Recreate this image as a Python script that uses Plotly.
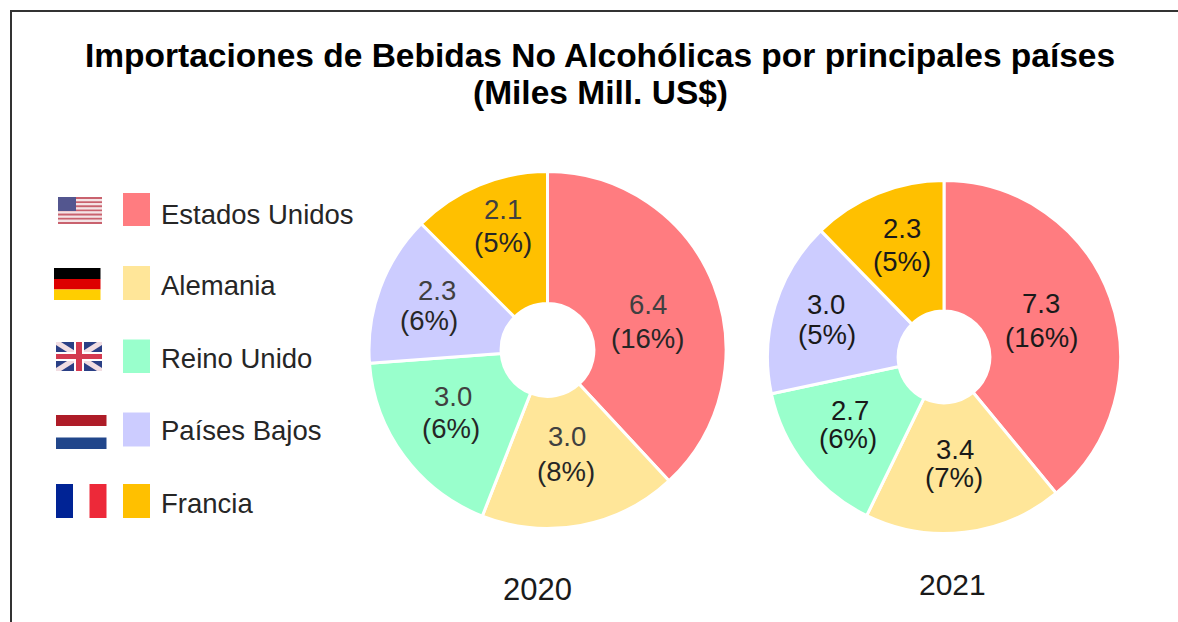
import plotly.graph_objects as go

W, H = 1178, 622

paises = ["Estados Unidos", "Alemania", "Reino Unido", "Países Bajos", "Francia"]
valores_2020 = [6.4, 3.0, 3.0, 2.3, 2.1]
valores_2021 = [7.3, 3.4, 2.7, 3.0, 2.3]
porcentajes_2020 = [16, 8, 6, 6, 5]
porcentajes_2021 = [16, 7, 6, 5, 5]
anios = ["2020", "2021"]
titulo = ["Importaciones de Bebidas No Alcohólicas por principales países", "(Miles Mill. US$)"]

colores = ["#FF7C80", "#FFE699", "#99FFCC", "#CCCCFF", "#FFC000"]

def fx(x): return x / W
def fy(y): return 1 - y / H

def pie_domain(cx, cy, r):
    return dict(x=[fx(cx - r), fx(cx + r)], y=[fy(cy + r), fy(cy - r)])

fig = go.Figure()
for vals, dom in ((valores_2020, pie_domain(547.5, 350, 178.5)), (valores_2021, pie_domain(944, 357, 176.5))):
    fig.add_trace(go.Pie(labels=paises, values=vals, sort=False, direction="clockwise", rotation=0,
                         hole=0.26, domain=dom, textinfo="none", showlegend=False,
                         marker=dict(colors=colores, line=dict(color="white", width=3))))

shapes, annotations = [], []

def text(x, y, s, size, color="#000000", bold=False, anchor="center"):
    annotations.append(dict(x=fx(x), y=fy(y), xref="paper", yref="paper", text=f"<b>{s}</b>" if bold else s,
                            showarrow=False, xanchor=anchor, yanchor="middle", borderpad=0,
                            font=dict(family="Liberation Sans, Arial, sans-serif", size=size, color=color)))

def rect(x0, y0, x1, y1, color):
    shapes.append(dict(type="rect", xref="paper", yref="paper", x0=fx(x0), x1=fx(x1), y0=fy(y0), y1=fy(y1),
                       fillcolor=color, line=dict(width=0), layer="above"))

def poly(pts, color):
    path = "M " + " L ".join(f"{fx(x):.5f},{fy(y):.5f}" for x, y in pts) + " Z"
    shapes.append(dict(type="path", xref="paper", yref="paper", path=path, fillcolor=color,
                       line=dict(width=0), layer="above"))

def hv(x0, y0, x1, y1):
    shapes.append(dict(type="line", xref="paper", yref="paper", x0=fx(x0), x1=fx(x1), y0=fy(y0), y1=fy(y1),
                       line=dict(color="#333333", width=2), layer="above"))

# frame (left and top edges only)
hv(11, 11, 11, 622)
hv(10, 11, 1178, 11)

# title
text(600, 56, titulo[0], 33.5, bold=True)
text(600, 93, titulo[1], 33.5, bold=True)

# legend
sw_y = [(193, 226), (266, 300), (339.5, 373), (412.5, 446.5), (484, 518)]
tx_y = [214.5, 285.5, 358.5, 430.5, 503]
for p, c, (a, b), y in zip(paises, colores, sw_y, tx_y):
    rect(123, a, 150, b, c)
    text(159.5, y, p, 27.5, "#262626", anchor="left")

# flags: USA
for i in range(13):
    rect(58, 197 + i * 27 / 13, 102, 197 + (i + 1) * 27 / 13, "#C9626E" if i % 2 == 0 else "#F4E4E6")
rect(58, 197, 76, 211, "#53568F")
# flags: Germany
rect(54, 268, 100.5, 279, "#000000")
rect(54, 279, 100.5, 289.5, "#DD0000")
rect(54, 289.5, 100.5, 300, "#FFCE00")
# flags: UK
ux0, ux1, uy0, uy1 = 56, 102, 342, 371
rect(ux0, uy0, ux1, uy1, "#2A3F85")
d = 5
poly([(ux0, uy0), (ux0 + d, uy0), (ux1, uy1 - 3), (ux1, uy1), (ux1 - d, uy1), (ux0, uy0 + 3)], "#F1DDE2")
poly([(ux1, uy0), (ux1 - d, uy0), (ux0, uy1 - 3), (ux0, uy1), (ux0 + d, uy1), (ux1, uy0 + 3)], "#F1DDE2")
rect(ux0, 352, ux1, 361, "#FFFFFF")
rect(74, uy0, 84, uy1, "#FFFFFF")
rect(ux0, 354, ux1, 359, "#D43A50")
rect(76, uy0, 82, uy1, "#D43A50")
# flags: Netherlands
rect(56, 415, 106.5, 426, "#AE1C28")
rect(56, 437.5, 106.5, 449, "#21468B")
# flags: France
rect(56, 484, 73, 518, "#002395")
rect(89.5, 484, 106.5, 518, "#ED2939")

# slice labels
def etiquetas(vals, pcts, pos, c1, c2):
    for v, p, (x1, y1, x2, y2) in zip(vals, pcts, pos):
        text(x1, y1, f"{v:.1f}", 27.5, c1)
        text(x2, y2, f"({p}%)", 27.5, c2)

etiquetas(valores_2020, porcentajes_2020,
          [(648, 304, 647, 338), (567, 436, 566, 471), (453, 397, 451, 428), (437, 290, 429, 320), (503, 210, 503, 242)],
          "#404040", "#262626")
etiquetas(valores_2021, porcentajes_2021,
          [(1041, 303, 1041, 337), (955, 449, 954, 477), (850, 410, 848, 438), (826, 304, 827, 334), (902, 228, 902, 261)],
          "#1A1A1A", "#1A1A1A")

text(537, 589, anios[0], 31, "#1A1A1A")
text(952, 584, anios[1], 30, "#1A1A1A")

fig.update_layout(width=W, height=H, margin=dict(l=0, r=0, t=0, b=0), paper_bgcolor="white",
                  plot_bgcolor="white", shapes=shapes, annotations=annotations, showlegend=False)
fig.write_html("out.html", config={"displayModeBar": False},
               post_script="document.body.style.margin='0';document.documentElement.style.overflow='hidden';")
